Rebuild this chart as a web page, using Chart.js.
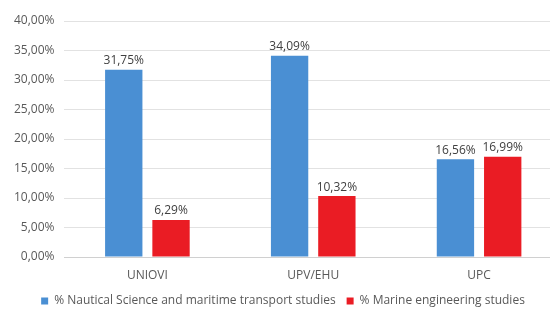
<!DOCTYPE html>
<html>
<head>
<meta charset="utf-8">
<script src="https://cdn.jsdelivr.net/npm/chart.js@4"></script>
<style>
  html, body { margin: 0; padding: 0; background: #fff; overflow: hidden; }
  #wrap { position: relative; width: 584px; height: 311px; }
</style>
</head>
<body>
<div id="wrap"><canvas id="myBarChart"></canvas></div>
<script>
// Datos del gráfico
const universidades = ['UNIOVI', 'UPV/EHU', 'UPC'];
const nauticalValues = [31.75, 34.09, 16.56];
const marineValues = [6.29, 10.32, 16.99];
const serieNames = ['% Nautical Science and maritime transport studies', '% Marine engineering studies'];

const fmt = v => v.toFixed(2).replace('.', ',') + '%';

// Plugin para las etiquetas encima de las barras
const barLabels = {
    id: 'barLabels',
    afterDatasetsDraw(chart) {
        const ctx = chart.ctx;
        ctx.save();
        ctx.font = '12px "Open Sans", sans-serif';
        ctx.fillStyle = '#404040';
        ctx.textAlign = 'center';
        ctx.textBaseline = 'bottom';
        chart.data.datasets.forEach((ds, i) => {
            chart.getDatasetMeta(i).data.forEach((bar, j) => {
                ctx.fillText(fmt(ds.data[j]), bar.x, bar.y - 3);
            });
        });
        ctx.restore();
    }
};

// Altura fija de la leyenda (el padding separa los elementos en horizontal)
const legendHeight = {
    id: 'legendHeight',
    beforeLayout(chart) {
        const lg = chart.legend;
        if (lg && !lg._patched) {
            const orig = lg.fit;
            lg.fit = function() { orig.call(this); this.height = 27; };
            lg._patched = true;
        }
    }
};

Chart.defaults.font.family = '"Open Sans", sans-serif';
Chart.defaults.color = '#595959';

const ctxBar = document.getElementById('myBarChart').getContext('2d');
const barChart = new Chart(ctxBar, {
    type: 'bar',
    data: {
        labels: universidades,
        datasets: [
            {
                label: serieNames[0],
                data: nauticalValues,
                backgroundColor: '#4a8fd3'
            },
            {
                label: serieNames[1],
                data: marineValues,
                backgroundColor: '#ea1c24'
            }
        ]
    },
    options: {
        responsive: true,
        maintainAspectRatio: false,
        animation: false,
        categoryPercentage: 0.57,
        barPercentage: 0.79,
        layout: { padding: { left: 4, right: 22, top: 21, bottom: 0 } },
        scales: {
            x: {
                grid: { display: false, drawTicks: false },
                border: { color: '#d0d0d0' },
                ticks: { font: { size: 12 }, padding: 11 },
                afterFit: s => { s.height = 27; }
            },
            y: {
                min: 0,
                max: 40,
                ticks: { stepSize: 5, font: { size: 12 }, padding: 10, callback: v => fmt(v) },
                grid: { color: '#e2e2e2', drawTicks: false },
                border: { display: false }
            }
        },
        plugins: {
            legend: {
                position: 'bottom',
                labels: { boxWidth: 7, boxHeight: 7, font: { size: 12 }, padding: 11 }
            },
            tooltip: { enabled: false }
        }
    },
    plugins: [barLabels, legendHeight]
});
</script>
</body>
</html>
